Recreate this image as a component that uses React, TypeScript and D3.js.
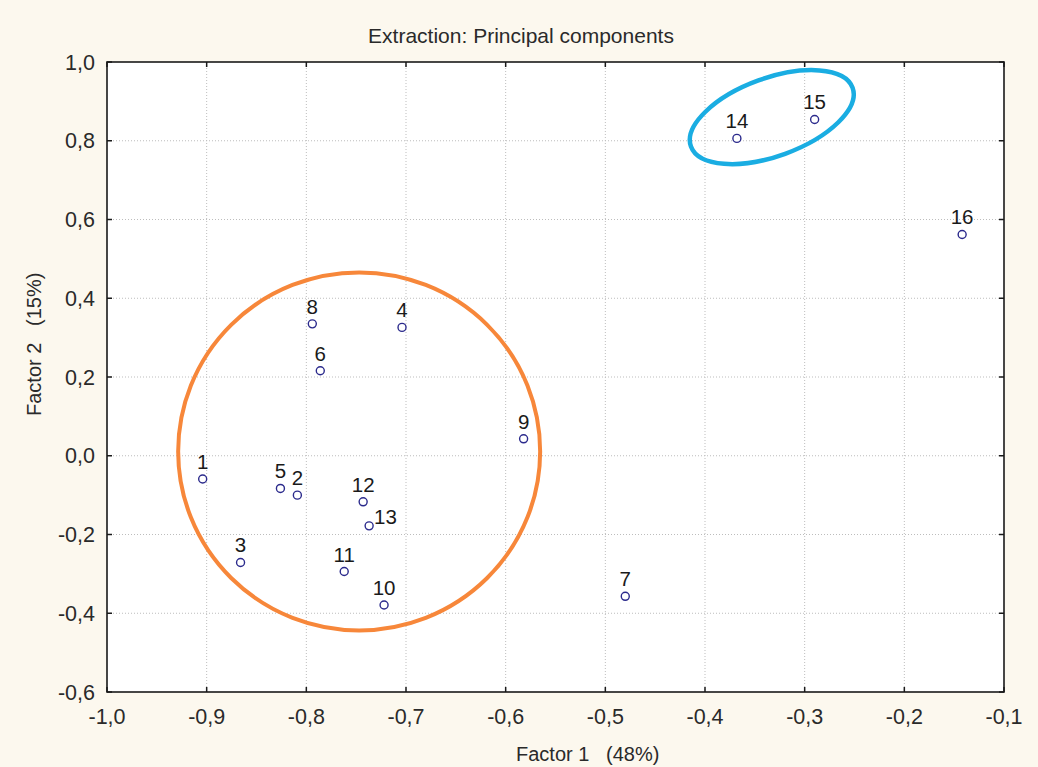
import * as d3 from "d3";

const width = 1038;
const height = 767;
const margin = { top: 62, right: 34, bottom: 75, left: 107 };

// Factor loadings
const ids = ["1", "2", "3", "4", "5", "6", "7", "8", "9", "10", "11", "12", "13", "14", "15", "16"];
const factor1 = [-0.904, -0.809, -0.866, -0.704, -0.826, -0.786, -0.480, -0.794, -0.582, -0.722, -0.762, -0.743, -0.737, -0.368, -0.290, -0.142];
const factor2 = [-0.059, -0.100, -0.271, 0.326, -0.083, 0.216, -0.357, 0.335, 0.043, -0.379, -0.294, -0.117, -0.178, 0.806, 0.854, 0.562];

const xTicks = [-1.0, -0.9, -0.8, -0.7, -0.6, -0.5, -0.4, -0.3, -0.2, -0.1];
const yTicks = [1.0, 0.8, 0.6, 0.4, 0.2, 0.0, -0.2, -0.4, -0.6];

// group outlines (centre in data units)
const orangeCentre = [-0.747, 0.011];
const blueCentre = [-0.333, 0.860];

const fmt = (v: number) => d3.format(".1f")(v).replace(".", ",").replace("−", "-");

const font = "Arial, 'Liberation Sans', sans-serif";

export default function App() {
  const x = d3.scaleLinear().domain([-1.0, -0.1]).range([margin.left, width - margin.right]);
  const y = d3.scaleLinear().domain([-0.6, 1.0]).range([height - margin.bottom, margin.top]);
  const [x0, x1] = x.range();
  const [y0, y1] = [y(1.0), y(-0.6)];
  const tick = 5;

  const pts = ids.map((id, i) => ({ id, fx: factor1[i], fy: factor2[i] }));

  return (
    <svg width={width} height={height} style={{ position: "absolute", left: 0, top: 0, background: "#fcf8ee" }} fontFamily={font}>
      <rect x={x0} y={y0} width={x1 - x0} height={y1 - y0} fill="#fff" />

      {/* grid */}
      {xTicks.slice(1, -1).map(t => (
        <line key={"gx" + t} x1={x(t)} x2={x(t)} y1={y0} y2={y1} stroke="#bdbdbd" strokeDasharray="1,2" />
      ))}
      {yTicks.slice(1, -1).map(t => (
        <line key={"gy" + t} y1={y(t)} y2={y(t)} x1={x0} x2={x1} stroke="#bdbdbd" strokeDasharray="1,2" />
      ))}

      {/* ticks, inward on every side */}
      {xTicks.map(t => (
        <g key={"tx" + t} stroke="#1a1a1a" strokeWidth={1.5}>
          <line x1={x(t)} x2={x(t)} y1={y1} y2={y1 - tick} />
          <line x1={x(t)} x2={x(t)} y1={y0} y2={y0 + tick} />
        </g>
      ))}
      {yTicks.map(t => (
        <g key={"ty" + t} stroke="#1a1a1a" strokeWidth={1.5}>
          <line y1={y(t)} y2={y(t)} x1={x0} x2={x0 + tick} />
          <line y1={y(t)} y2={y(t)} x1={x1} x2={x1 - tick} />
        </g>
      ))}
      <rect x={x0} y={y0} width={x1 - x0} height={y1 - y0} fill="none" stroke="#1a1a1a" strokeWidth={1.6} />

      {/* tick labels */}
      {xTicks.map(t => (
        <text key={"lx" + t} x={x(t)} y={y1 + 32} textAnchor="middle" fontSize={21.5} fill="#2a2a2a">{fmt(t)}</text>
      ))}
      {yTicks.map(t => (
        <text key={"ly" + t} x={x0 - 12} y={y(t) + 7.5} textAnchor="end" fontSize={21.5} fill="#2a2a2a">{fmt(t)}</text>
      ))}

      {/* group outlines */}
      <ellipse cx={x(orangeCentre[0])} cy={y(orangeCentre[1])} rx={181} ry={179} fill="none" stroke="#f7873a" strokeWidth={4} />
      <ellipse cx={0} cy={0} rx={86} ry={39} fill="none" stroke="#1aade2" strokeWidth={4.5}
        transform={`translate(${x(blueCentre[0])},${y(blueCentre[1])}) rotate(-20)`} />

      {/* points */}
      {pts.map(p => (
        <g key={p.id}>
          <circle cx={x(p.fx)} cy={y(p.fy)} r={4} fill="#fff" stroke="#2b2a8c" strokeWidth={1.4} />
          {p.id === "13" ? (
            <text x={x(p.fx) + 5} y={y(p.fy) - 2} fontSize={20.5} fill="#1a1a1a">{p.id}</text>
          ) : (
            <text x={x(p.fx)} y={y(p.fy) - 10} textAnchor="middle" fontSize={20.5} fill="#1a1a1a">{p.id}</text>
          )}
        </g>
      ))}

      {/* titles */}
      <text x={521} y={43} textAnchor="middle" fontSize={21} fill="#2a2a2a">Extraction: Principal components</text>
      <text x={516} y={761} fontSize={20} fill="#2a2a2a" style={{ whiteSpace: "pre" }}>{"Factor 1   (48%)"}</text>
      <text transform="translate(41,416) rotate(-90)" fontSize={20} fill="#2a2a2a" style={{ whiteSpace: "pre" }}>{"Factor 2   (15%)"}</text>
    </svg>
  );
}
